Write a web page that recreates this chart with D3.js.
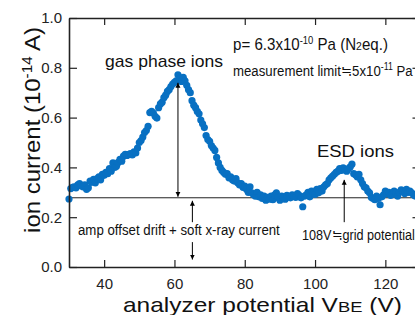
<!DOCTYPE html>
<html lang="en">
<head>
<meta charset="utf-8">
<title>ion current vs analyzer potential</title>
<script src="https://cdn.jsdelivr.net/npm/d3@7"></script>
<style>
  body { margin: 0; background: #fff; }
  svg { display: block; font-family: "Liberation Sans", Arial, Helvetica, sans-serif; }
  .axis path, .axis line { stroke: #222; }
  .axis text { font-size: 15px; fill: #222; }
</style>
</head>
<body>
<script>
// analyzer potential (V), 0.5 V steps
var potential = d3.range(30, 128.75, 0.5);
// measured ion current (10^-14 A)
var current = [
  0.273, 0.315, 0.320, 0.322, 0.318, 0.330, 0.335, 0.326, 0.322, 0.330,
  0.312, 0.318, 0.345, 0.340, 0.352, 0.338, 0.355, 0.362, 0.350, 0.372,
  0.368, 0.380, 0.375, 0.395, 0.385, 0.418, 0.400, 0.405, 0.420, 0.432,
  0.425, 0.445, 0.452, 0.448, 0.452, 0.455, 0.450, 0.462, 0.458, 0.478,
  0.500, 0.508, 0.522, 0.540, 0.548, 0.565, 0.620, 0.625, 0.618, 0.605,
  0.598, 0.640, 0.655, 0.662, 0.680, 0.690, 0.705, 0.712, 0.725, 0.735,
  0.742, 0.748, 0.772, 0.760, 0.745, 0.762, 0.748, 0.730, 0.712, 0.700,
  0.668, 0.650, 0.640, 0.625, 0.615, 0.590, 0.575, 0.560, 0.528, 0.512,
  0.505, 0.488, 0.478, 0.468, 0.440, 0.418, 0.400, 0.388, 0.380, 0.372,
  0.375, 0.358, 0.362, 0.350, 0.345, 0.355, 0.338, 0.330, 0.335, 0.320,
  0.325, 0.312, 0.300, 0.322, 0.298, 0.290, 0.285, 0.300, 0.282, 0.290,
  0.275, 0.285, 0.268, 0.280, 0.272, 0.285, 0.270, 0.290, 0.298, 0.278,
  0.268, 0.285, 0.280, 0.272, 0.288, 0.282, 0.278, 0.290, 0.285, 0.280,
  0.295, 0.288, 0.278, 0.242, 0.285, 0.290, 0.300, 0.282, 0.305, 0.295,
  0.292, 0.312, 0.298, 0.315, 0.305, 0.322, 0.330, 0.335, 0.350, 0.358,
  0.365, 0.372, 0.380, 0.385, 0.395, 0.388, 0.398, 0.392, 0.385, 0.395,
  0.402, 0.413, 0.375, 0.370, 0.362, 0.372, 0.350, 0.335, 0.322, 0.318,
  0.305, 0.298, 0.280, 0.275, 0.270, 0.285, 0.275, 0.250, 0.282, 0.290,
  0.305, 0.295, 0.300, 0.288, 0.292, 0.305, 0.298, 0.285, 0.300, 0.310,
  0.305, 0.295, 0.312, 0.300, 0.305, 0.298, 0.290, 0.285
];
var xTicks = [40, 60, 80, 100, 120];
var yTicks = [0, 0.2, 0.4, 0.6, 0.8, 1.0];
var offsetLevel = 0.278;   // amp offset drift + soft x-ray level
var gasPeak = [61, 0.74];  // arrow top for gas phase ions
var esdPos = 108.3;        // grid potential

var dataset = potential.map(function(v, i) { return {v: v, c: current[i]}; });

var w = 415, h = 315;
var margin = {top: 18, left: 69};
var xScale = d3.scaleLinear().domain([30, 130]).range([margin.left, 420.5]);
var yScale = d3.scaleLinear().domain([0, 1]).range([267, margin.top]);

var svg = d3.select("body").append("svg")
    .attr("width", w)
    .attr("height", h);

svg.append("defs").append("marker")
    .attr("id", "head")
    .attr("viewBox", "0 0 10 10")
    .attr("refX", 10).attr("refY", 5)
    .attr("markerWidth", 5).attr("markerHeight", 6)
    .attr("markerUnits", "userSpaceOnUse")
    .attr("orient", "auto-start-reverse")
    .append("path")
    .attr("d", "M0,0 L10,5 L0,10 z")
    .attr("fill", "#000");

// offset baseline
svg.append("line")
    .attr("x1", xScale(30)).attr("x2", w)
    .attr("y1", yScale(offsetLevel)).attr("y2", yScale(offsetLevel))
    .attr("stroke", "#222").attr("stroke-width", 1);

// data points
svg.append("g").selectAll("circle")
    .data(dataset)
    .enter()
    .append("circle")
    .attr("cx", function(d) { return xScale(d.v); })
    .attr("cy", function(d) { return yScale(d.c); })
    .attr("r", 3.6)
    .attr("fill", "#0870c2");

// axes (ticks inward, frame on all sides)
var xAxis = d3.axisBottom(xScale).tickValues(xTicks).tickSizeInner(-7).tickSizeOuter(0).tickPadding(11);
var yAxis = d3.axisLeft(yScale).tickValues(yTicks).tickSizeInner(-8).tickSizeOuter(0).tickPadding(7)
    .tickFormat(d3.format(".1f"));

svg.append("g").attr("class", "axis")
    .attr("transform", "translate(0," + yScale(0) + ")")
    .call(xAxis);
svg.append("g").attr("class", "axis")
    .attr("transform", "translate(0," + yScale(1) + ")")
    .call(d3.axisTop(xScale).tickValues(xTicks).tickSizeInner(-7).tickSizeOuter(0).tickFormat(""));
svg.append("g").attr("class", "axis")
    .attr("transform", "translate(" + xScale(30) + ",0)")
    .call(yAxis);
svg.append("g").attr("class", "axis")
    .attr("transform", "translate(" + xScale(130) + ",0)")
    .call(d3.axisRight(yScale).tickValues(yTicks).tickSizeInner(-8).tickSizeOuter(0).tickFormat(""));
svg.selectAll(".axis path").attr("stroke-width", 1.6);
svg.selectAll(".axis line").attr("stroke-width", 1.2);

// arrows
function arrow(x, y1, y2, both) {
    var l = svg.append("line")
        .attr("x1", x).attr("x2", x)
        .attr("y1", y1).attr("y2", y2)
        .attr("stroke", "#000").attr("stroke-width", 1)
        .attr("marker-end", "url(#head)");
    if (both) l.attr("marker-start", "url(#head)");
}
arrow(xScale(gasPeak[0]), yScale(gasPeak[1]), yScale(offsetLevel) - 1, true);
arrow(xScale(65.1), yScale(0.18), yScale(offsetLevel) + 3, false);
arrow(xScale(65.1), yScale(0.10), yScale(0.03), false);
arrow(xScale(esdPos), yScale(0.18), yScale(0.35), false);

// text squeezed or stretched to a target width
function label(x, y, size, target, build, rot) {
    var g = svg.append("g");
    var t = g.append("text").attr("font-size", size).attr("fill", "#111");
    if (rot) t.attr("text-anchor", "middle");
    build(t);
    var len = t.node().getComputedTextLength();
    var k = target ? target / len : 1;
    g.attr("transform", "translate(" + x + "," + y + ")" + (rot ? " rotate(-90)" : "") + " scale(" + k + ",1)");
    return t;
}

label(105, 67, 17, 118, function(t) { t.text("gas phase ions"); });
label(317, 157, 17, 77, function(t) { t.text("ESD ions"); });

label(233, 50, 16, 155, function(t) {
    t.append("tspan").text("p= 6.3x10");
    t.append("tspan").attr("font-size", 10).attr("dy", -6).text("-10");
    t.append("tspan").attr("dy", 6).text(" Pa (N");
    t.append("tspan").attr("font-size", 11).text("2");
    t.append("tspan").text("eq.)");
});
label(233, 76, 15, 180, function(t) {
    t.append("tspan").text("measurement limit\u22525x10");
    t.append("tspan").attr("font-size", 10).attr("dy", -6).text("-11");
    t.append("tspan").attr("dy", 6).text(" Pa");
});
label(78, 235, 15, 202, function(t) { t.text("amp offset drift + soft x-ray current"); });
label(302, 240, 15, 113, function(t) { t.text("108V\u2252grid potential"); });

// axis titles
label(123, 312, 20, 279, function(t) {
    t.append("tspan").text("analyzer potential V");
    t.append("tspan").attr("font-size", 15).text("BE");
    t.append("tspan").text(" (V)");
});
label(40, 130, 22, 206, function(t) {
    t.append("tspan").text("ion current (10");
    t.append("tspan").attr("font-size", 14).attr("dy", -8).text("-14");
    t.append("tspan").attr("dy", 8).text(" A)");
}, true);
</script>
</body>
</html>
